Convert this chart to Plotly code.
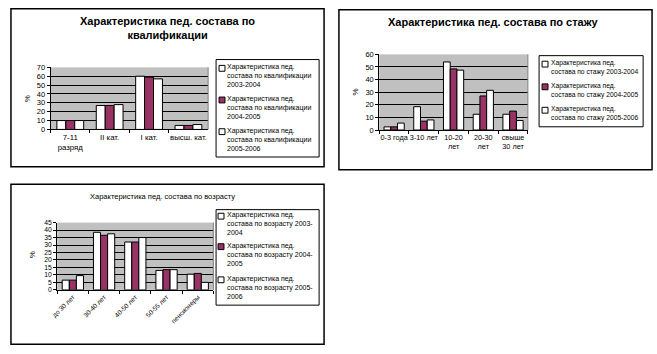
import plotly.graph_objects as go

W, H = 657, 354
FONT = "Liberation Sans, Arial, sans-serif"

# ---------------- data ----------------
qual_categories = ["7-11<br>разряд", "II кат.", "I кат.", "высш. кат."]
qual_2003 = [10, 27, 60, 4.5]
qual_2004 = [10, 27, 59, 4.5]
qual_2005 = [10, 28, 57, 5.5]
qual_names = [
    "Характеристика пед.<br>состава по квалификации<br>2003-2004",
    "Характеристика пед.<br>состава по квалификации<br>2004-2005",
    "Характеристика пед.<br>состава по квалификации<br>2005-2006",
]

exp_categories = ["0-3 года", "3-10 лет", "10-20<br>лет", "20-30<br>лет", "свыше<br>30 лет"]
exp_2003 = [2.5, 18.5, 54, 12.5, 12.5]
exp_2004 = [2.5, 7, 48.5, 27, 15]
exp_2005 = [5.5, 8, 47.5, 31.5, 7.5]
exp_names = [
    "Характеристика пед.<br>состава по стажу 2003-2004",
    "Характеристика пед.<br>состава по стажу 2004-2005",
    "Характеристика пед.<br>состава по стажу 2005-2006",
]

age_categories = ["до 30 лет", "30-40 лет", "40-50 лет", "50-55 лет", "пенсионеры"]
age_2003 = [6.5, 38.5, 32, 13, 10.5]
age_2004 = [6.5, 36.5, 32, 13.5, 11]
age_2005 = [9.5, 37.5, 35, 13.5, 5]
age_names = [
    "Характеристика пед.<br>состава по возрасту 2003-<br>2004",
    "Характеристика пед.<br>состава по возрасту 2004-<br>2005",
    "Характеристика пед.<br>состава по возрасту 2005-<br>2006",
]

titles = [
    "<b>Характеристика пед. состава по<br>квалификации</b>",
    "<b>Характеристика пед. состава по стажу</b>",
    "Характеристика пед. состава по возрасту",
]
y_label = "%"
series_colors = ["#FFFFFF", "#993366", "#FFFFFF"]


# ---------------- helpers (pixel -> paper) ----------------
def fx(x):
    return x / W


def fy(y):
    return 1 - y / H


fig = go.Figure()

charts = [
    dict(cats=qual_categories, vals=[qual_2003, qual_2004, qual_2005], names=qual_names,
         ax="", plot=(45, 65, 204, 128.7), rng=70, dt=10, tickangle=0, tfs=7.8, yfs=7.5),
    dict(cats=exp_categories, vals=[exp_2003, exp_2004, exp_2005], names=exp_names,
         ax="2", plot=(376.7, 51.7, 526.7, 129.3), rng=60, dt=10, tickangle=0, tfs=7.3, yfs=7.5),
    dict(cats=age_categories, vals=[age_2003, age_2004, age_2005], names=age_names,
         ax="3", plot=(51.7, 224.3, 209.3, 293.3), rng=45, dt=5, tickangle=-45, tfs=6.5, yfs=6.8),
]

shapes = []
annotations = []

for c in charts:
    xa = "x" + c["ax"]
    ya = "y" + c["ax"]
    for vals, name, col in zip(c["vals"], c["names"], series_colors):
        fig.add_trace(go.Bar(
            x=c["cats"], y=vals, name=name, xaxis=xa, yaxis=ya,
            marker=dict(color=col, line=dict(color="black", width=1)),
            showlegend=False,
        ))
    x0, y0, x1, y1 = c["plot"]
    key = c["ax"]
    fig.layout["xaxis" + key] = dict(
        domain=[fx(x0), fx(x1)], anchor=ya, type="category",
        showline=True, linecolor="black", linewidth=1,
        ticks="outside", ticklen=3, tickcolor="black", tickson="boundaries",
        tickangle=c["tickangle"], showgrid=False,
        tickfont=dict(family=FONT, size=c["tfs"], color="black"),
        fixedrange=True,
    )
    fig.layout["yaxis" + key] = dict(
        domain=[fy(y1), fy(y0)], anchor=xa, range=[0, c["rng"]], dtick=c["dt"],
        showline=True, linecolor="black", linewidth=1,
        ticks="outside", ticklen=3, tickcolor="black",
        showgrid=True, gridcolor="black", gridwidth=1, zeroline=False,
        tickfont=dict(family=FONT, size=c["yfs"], color="black"),
        fixedrange=True,
    )
    # right border of plot area
    shapes.append(dict(type="line", xref="paper", yref="paper",
                       x0=fx(x1), x1=fx(x1), y0=fy(y1), y1=fy(y0),
                       line=dict(color="#808080", width=1)))

# outer chart frames
for (a, b, c2, d) in [(5, 5, 321, 167), (336, 6, 652, 170), (5, 185, 321, 349)]:
    shapes.append(dict(type="rect", xref="paper", yref="paper",
                       x0=fx(a), x1=fx(c2), y0=fy(d), y1=fy(b),
                       line=dict(color="black", width=1.5)))

# titles
annotations.append(dict(text=titles[0], x=fx(163), y=fy(25), xref="paper", yref="paper",
                        showarrow=False, xanchor="center", yanchor="middle",
                        font=dict(family=FONT, size=11, color="black")))
annotations.append(dict(text=titles[1], x=fx(492), y=fy(18), xref="paper", yref="paper",
                        showarrow=False, xanchor="center", yanchor="middle",
                        font=dict(family=FONT, size=11, color="black")))
annotations.append(dict(text=titles[2], x=fx(158), y=fy(198), xref="paper", yref="paper",
                        showarrow=False, xanchor="center", yanchor="middle",
                        font=dict(family=FONT, size=7.5, color="black")))

# y-axis labels
for (xx, yy) in [(22, 97), (353, 90), (27, 257)]:
    annotations.append(dict(text=y_label, x=fx(xx), y=fy(yy), xref="paper", yref="paper",
                            showarrow=False, textangle=-90, xanchor="center", yanchor="middle",
                            font=dict(family=FONT, size=8, color="black")))

# legends (drawn manually to match the compact Excel style)
legends = [
    dict(box=(212, 57, 316, 157), sq_x=215, txt_x=221, first=[66, 98.5, 131], names=qual_names, fs=7),
    dict(box=(538, 53, 643, 126), sq_x=541, txt_x=548, first=[61.7, 85, 109], names=exp_names, fs=6.7),
    dict(box=(212, 211, 316, 309), sq_x=214, txt_x=221, first=[217.7, 249, 283], names=age_names, fs=7),
]
for lg in legends:
    a, b, c2, d = lg["box"]
    shapes.append(dict(type="rect", xref="paper", yref="paper",
                       x0=fx(a), x1=fx(c2), y0=fy(d), y1=fy(b),
                       line=dict(color="black", width=1), fillcolor="white"))
    for yy, name, col in zip(lg["first"], lg["names"], series_colors):
        shapes.append(dict(type="rect", xref="paper", yref="paper",
                           x0=fx(lg["sq_x"]), x1=fx(lg["sq_x"] + 6),
                           y0=fy(yy + 3), y1=fy(yy - 3),
                           line=dict(color="black", width=1), fillcolor=col))
        annotations.append(dict(text=name, x=fx(lg["txt_x"]), y=fy(yy - 7),
                                xref="paper", yref="paper", showarrow=False,
                                xanchor="left", yanchor="top", align="left",
                                font=dict(family=FONT, size=lg["fs"], color="black")))

fig.update_layout(
    width=W, height=H,
    margin=dict(l=0, r=0, t=0, b=0),
    paper_bgcolor="white",
    plot_bgcolor="#C0C0C0",
    barmode="group", bargap=0.32, bargroupgap=0,
    shapes=shapes, annotations=annotations,
    showlegend=False,
    font=dict(family=FONT, color="black"),
)

fig.write_html("out.html", config={"displayModeBar": False})
